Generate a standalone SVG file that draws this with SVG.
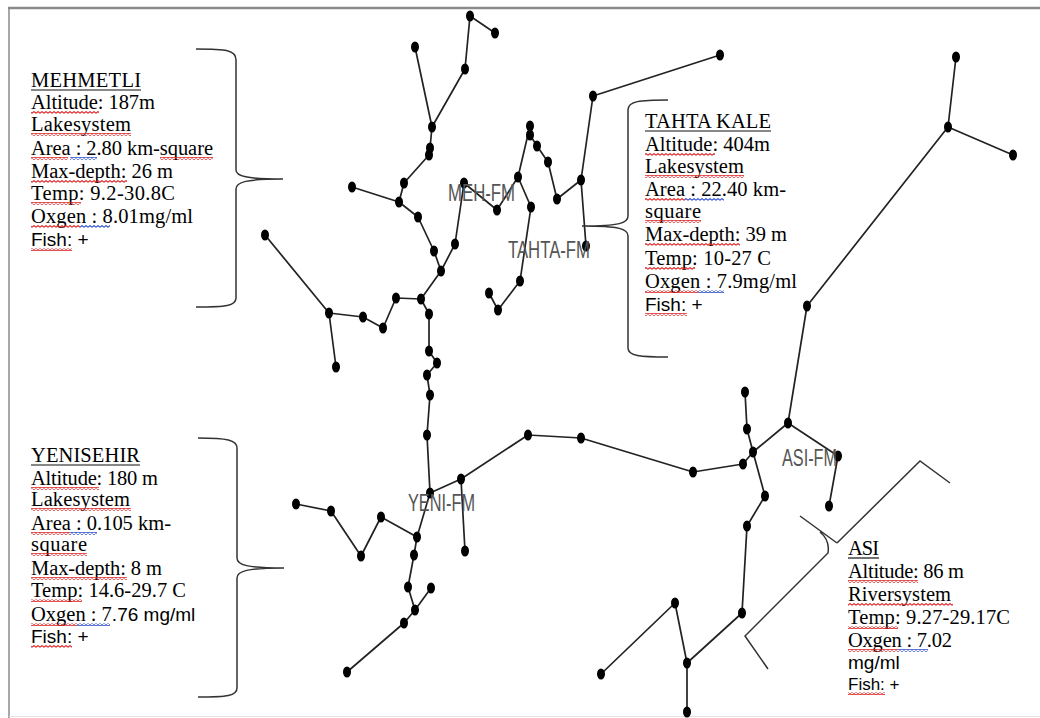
<svg xmlns="http://www.w3.org/2000/svg" width="1040" height="718" viewBox="0 0 1040 718">
<style>
.e{fill:none;stroke:#222;stroke-width:1.7;stroke-linejoin:round;stroke-linecap:round}
.br{fill:none;stroke:#333;stroke-width:1.5}
.d{fill:#000}
.t{font-family:"Liberation Serif","Times New Roman",serif;font-size:20.5px;fill:#000}
.s{font-family:"Liberation Sans",Arial,sans-serif;font-size:19px;fill:#000}
.fm{font-family:"Liberation Sans",Arial,sans-serif;font-size:24px;fill:#555}
.ul{stroke:#111;stroke-width:1.2}
.r{fill:url(#wr)}
.b{fill:url(#wb)}
</style>
<defs>
<pattern id="wr" width="4" height="3" patternUnits="userSpaceOnUse"><path d="M0,2.2 L2,0.6 L4,2.2" fill="none" stroke="#e02424" stroke-width="1.1"/></pattern>
<pattern id="wb" width="4" height="3" patternUnits="userSpaceOnUse"><path d="M0,2.2 L2,0.6 L4,2.2" fill="none" stroke="#3050d0" stroke-width="1.1"/></pattern>
<ellipse id="dot" cx="0" cy="0" rx="4" ry="5.5"/>
</defs>
<rect width="1040" height="718" fill="#fff"/>
<line x1="8" y1="8" x2="1040" y2="8" stroke="#8a8a8a" stroke-width="2.5"/>
<line x1="9" y1="8" x2="9" y2="718" stroke="#8a8a8a" stroke-width="1.5"/>
<line x1="9" y1="716.5" x2="1040" y2="716.5" stroke="#e2e2e2" stroke-width="1"/>

<g id="connectors">
<polyline class="e" points="495,33 470,16 465,69 432,127 430,148 429,155 404,183 399,202 418,217 434,251 441,271 455,244 464,183 497,210 518,177 530,126"/>
<polyline class="e" points="415,47 432,127"/>
<polyline class="e" points="352,187 399,202"/>
<polyline class="e" points="530,135 537,146 548,162 557,199 581,180 593,96 720,55"/>
<polyline class="e" points="581,180 586,246"/>
<polyline class="e" points="518,177 531,207 520,281 498,310 489,293"/>
<polyline class="e" points="441,271 421,299 396,298 383,328 363,317 329,313 265,235"/>
<polyline class="e" points="329,313 336,367"/>
<polyline class="e" points="421,299 429,314 429,351 437,363 427,375 430,395 427,435 430,493"/>
<polyline class="e" points="430,493 461,479 528,435 581,438 693,472 743,464 753,452"/>
<polyline class="e" points="461,479 465,551"/>
<polyline class="e" points="430,493 417,537 381,517 361,556 331,511 296,504"/>
<polyline class="e" points="417,537 414,555 408,587 415,610 431,588"/>
<polyline class="e" points="415,610 404,623 347,672"/>
<polyline class="e" points="745,392 747,429 753,452 765,496 747,526 742,613 687,663 687,712"/>
<polyline class="e" points="753,452 788,423 807,306 948,127 956,57"/>
<polyline class="e" points="948,127 1013,155"/>
<polyline class="e" points="788,423 838,456 829,506"/>
<polyline class="e" points="601,674 675,603 687,663"/>
</g>

<g id="nodes" class="d">
<g id="n1"><use href="#dot" x="415" y="47"/></g>
<g id="n2"><use href="#dot" x="470" y="16"/></g>
<g id="n3"><use href="#dot" x="495" y="33"/></g>
<g id="n4"><use href="#dot" x="465" y="69"/></g>
<g id="n5"><use href="#dot" x="432" y="127"/></g>
<g id="n6"><use href="#dot" x="430" y="148"/></g>
<g id="n7"><use href="#dot" x="429" y="155"/></g>
<g id="n8"><use href="#dot" x="404" y="183"/></g>
<g id="n9"><use href="#dot" x="352" y="187"/></g>
<g id="n10"><use href="#dot" x="399" y="202"/></g>
<g id="n11"><use href="#dot" x="418" y="217"/></g>
<g id="n12"><use href="#dot" x="434" y="251"/></g>
<g id="n13"><use href="#dot" x="441" y="271"/></g>
<g id="n14"><use href="#dot" x="455" y="244"/></g>
<g id="n15"><use href="#dot" x="464" y="183"/></g>
<g id="n16"><use href="#dot" x="497" y="210"/></g>
<g id="n17"><use href="#dot" x="518" y="177"/></g>
<g id="n18"><use href="#dot" x="530" y="126"/></g>
<g id="n19"><use href="#dot" x="530" y="135"/></g>
<g id="n20"><use href="#dot" x="537" y="146"/></g>
<g id="n21"><use href="#dot" x="548" y="162"/></g>
<g id="n22"><use href="#dot" x="557" y="199"/></g>
<g id="n23"><use href="#dot" x="581" y="180"/></g>
<g id="n24"><use href="#dot" x="593" y="96"/></g>
<g id="n25"><use href="#dot" x="720" y="55"/></g>
<g id="n26"><use href="#dot" x="586" y="246"/></g>
<g id="n27"><use href="#dot" x="531" y="207"/></g>
<g id="n28"><use href="#dot" x="520" y="281"/></g>
<g id="n29"><use href="#dot" x="498" y="310"/></g>
<g id="n30"><use href="#dot" x="489" y="293"/></g>
<g id="n31"><use href="#dot" x="421" y="299"/></g>
<g id="n32"><use href="#dot" x="396" y="298"/></g>
<g id="n33"><use href="#dot" x="383" y="328"/></g>
<g id="n34"><use href="#dot" x="363" y="317"/></g>
<g id="n35"><use href="#dot" x="329" y="313"/></g>
<g id="n36"><use href="#dot" x="265" y="235"/></g>
<g id="n37"><use href="#dot" x="336" y="367"/></g>
<g id="n38"><use href="#dot" x="429" y="314"/></g>
<g id="n39"><use href="#dot" x="429" y="351"/></g>
<g id="n40"><use href="#dot" x="437" y="363"/></g>
<g id="n41"><use href="#dot" x="427" y="375"/></g>
<g id="n42"><use href="#dot" x="430" y="395"/></g>
<g id="n43"><use href="#dot" x="427" y="435"/></g>
<g id="n44"><use href="#dot" x="430" y="493"/></g>
<g id="n45"><use href="#dot" x="461" y="479"/></g>
<g id="n46"><use href="#dot" x="528" y="435"/></g>
<g id="n47"><use href="#dot" x="581" y="438"/></g>
<g id="n48"><use href="#dot" x="693" y="472"/></g>
<g id="n49"><use href="#dot" x="743" y="464"/></g>
<g id="n50"><use href="#dot" x="753" y="452"/></g>
<g id="n51"><use href="#dot" x="465" y="551"/></g>
<g id="n52"><use href="#dot" x="417" y="537"/></g>
<g id="n53"><use href="#dot" x="381" y="517"/></g>
<g id="n54"><use href="#dot" x="361" y="556"/></g>
<g id="n55"><use href="#dot" x="331" y="511"/></g>
<g id="n56"><use href="#dot" x="296" y="504"/></g>
<g id="n57"><use href="#dot" x="414" y="555"/></g>
<g id="n58"><use href="#dot" x="408" y="587"/></g>
<g id="n59"><use href="#dot" x="415" y="610"/></g>
<g id="n60"><use href="#dot" x="431" y="588"/></g>
<g id="n61"><use href="#dot" x="404" y="623"/></g>
<g id="n62"><use href="#dot" x="347" y="672"/></g>
<g id="n63"><use href="#dot" x="745" y="392"/></g>
<g id="n64"><use href="#dot" x="747" y="429"/></g>
<g id="n65"><use href="#dot" x="765" y="496"/></g>
<g id="n66"><use href="#dot" x="747" y="526"/></g>
<g id="n67"><use href="#dot" x="742" y="613"/></g>
<g id="n68"><use href="#dot" x="687" y="663"/></g>
<g id="n69"><use href="#dot" x="687" y="712"/></g>
<g id="n70"><use href="#dot" x="788" y="423"/></g>
<g id="n71"><use href="#dot" x="807" y="306"/></g>
<g id="n72"><use href="#dot" x="948" y="127"/></g>
<g id="n73"><use href="#dot" x="956" y="57"/></g>
<g id="n74"><use href="#dot" x="1013" y="155"/></g>
<g id="n75"><use href="#dot" x="838" y="456"/></g>
<g id="n76"><use href="#dot" x="829" y="506"/></g>
<g id="n77"><use href="#dot" x="601" y="674"/></g>
<g id="n78"><use href="#dot" x="675" y="603"/></g>
</g>

<g id="fm-labels">
<text class="fm" x="448" y="201" textLength="67" lengthAdjust="spacingAndGlyphs">MEH-FM</text>
<text class="fm" x="508" y="258" textLength="82" lengthAdjust="spacingAndGlyphs">TAHTA-FM</text>
<text class="fm" x="408" y="511" textLength="67" lengthAdjust="spacingAndGlyphs">YENI-FM</text>
<text class="fm" x="782" y="466" textLength="55" lengthAdjust="spacingAndGlyphs">ASI-FM</text>
</g>

<g id="mehmetli">
<path class="br" d="M196,49 C226,49 236,50 236,60 L236,170 C236,176 246,179 283,179 C246,179 236,182 236,189 L236,298 C236,306 226,307 196,307"/>
<text class="t" x="31" y="87" textLength="110">MEHMETLI</text>
<line class="ul" x1="31" y1="90" x2="141" y2="90"/>
<text class="t" x="31" y="109" textLength="124">Altitude: 187m</text>
<text class="t" x="31" y="131" textLength="100">Lakesystem</text>
<text class="t" x="31" y="155" textLength="182">Area : 2.80 km-square</text>
<text class="t" x="31" y="178" textLength="142">Max-depth: 26 m</text>
<text class="t" x="31" y="200" textLength="144">Temp: 9.2-30.8C</text>
<text class="t" x="31" y="223" textLength="162">Oxgen : 8.01mg/ml</text>
<text class="s" x="31" y="246">Fish: +</text>
<rect class="r" x="31" y="111" width="68" height="3"/>
<rect class="r" x="31" y="133" width="100" height="3"/>
<rect class="r" x="31" y="157" width="37" height="3"/>
<rect class="b" x="70" y="157" width="27" height="3"/>
<rect class="r" x="160" y="157" width="53" height="3"/>
<rect class="r" x="31" y="180" width="96" height="3"/>
<rect class="r" x="31" y="202" width="50" height="3"/>
<rect class="r" x="31" y="225" width="49" height="3"/>
<rect class="b" x="80" y="225" width="30" height="3"/>
<rect class="r" x="31" y="248" width="41" height="3"/>
</g>

<g id="tahta-kale">
<path class="br" d="M668,100 C640,100 628,101 628,110 L628,216 C628,223 620,226 582,226 C620,226 628,229 628,236 L628,348 C628,356 640,357 668,357"/>
<text class="t" x="645" y="128" textLength="126">TAHTA KALE</text>
<line class="ul" x1="645" y1="131" x2="771" y2="131"/>
<text class="t" x="645" y="151" textLength="125">Altitude: 404m</text>
<text class="t" x="645" y="173" textLength="99">Lakesystem</text>
<text class="t" x="645" y="196" textLength="141">Area : 22.40 km-</text>
<text class="t" x="645" y="218" textLength="56">square</text>
<text class="t" x="645" y="241" textLength="142">Max-depth: 39 m</text>
<text class="t" x="645" y="265" textLength="126">Temp: 10-27 C</text>
<text class="t" x="645" y="288" textLength="152">Oxgen : 7.9mg/ml</text>
<text class="s" x="645" y="311">Fish: +</text>
<rect class="r" x="645" y="153" width="70" height="3"/>
<rect class="r" x="645" y="175" width="99" height="3"/>
<rect class="r" x="645" y="198" width="40" height="3"/>
<rect class="b" x="685" y="198" width="39" height="3"/>
<rect class="r" x="645" y="220" width="56" height="3"/>
<rect class="r" x="645" y="243" width="95" height="3"/>
<rect class="r" x="645" y="267" width="50" height="3"/>
<rect class="r" x="645" y="290" width="53" height="3"/>
<rect class="b" x="698" y="290" width="26" height="3"/>
<rect class="r" x="645" y="313" width="42" height="3"/>
</g>

<g id="yenisehir">
<path class="br" d="M198,438 C227,438 237,440 237,448 L237,558 C237,565 247,568 284,568 C247,568 237,571 237,578 L237,688 C237,696 227,697 198,697"/>
<text class="t" x="31" y="462" textLength="109">YENISEHIR</text>
<line class="ul" x1="31" y1="465" x2="140" y2="465"/>
<text class="t" x="31" y="485" textLength="127">Altitude: 180 m</text>
<text class="t" x="31" y="506" textLength="99">Lakesystem</text>
<text class="t" x="31" y="530" textLength="140">Area : 0.105 km-</text>
<text class="t" x="31" y="551" textLength="56">square</text>
<text class="t" x="31" y="575" textLength="131">Max-depth: 8 m</text>
<text class="t" x="31" y="597" textLength="155">Temp: 14.6-29.7 C</text>
<text class="t" x="31" y="621">Oxgen : 7<tspan class="s">.76 mg/ml</tspan></text>
<text class="s" x="31" y="643">Fish: +</text>
<rect class="r" x="31" y="487" width="68" height="3"/>
<rect class="r" x="31" y="508" width="100" height="3"/>
<rect class="r" x="31" y="532" width="39" height="3"/>
<rect class="b" x="70" y="532" width="27" height="3"/>
<rect class="r" x="31" y="553" width="56" height="3"/>
<rect class="r" x="31" y="577" width="96" height="3"/>
<rect class="r" x="31" y="599" width="51" height="3"/>
<rect class="r" x="31" y="623" width="46" height="3"/>
<rect class="b" x="77" y="623" width="33" height="3"/>
<rect class="r" x="31" y="645" width="41" height="3"/>
</g>

<g id="asi">
<path class="br" d="M950,483 L920,461 L837,543 M800,516 L837,543 M820,532 Q830,540 828,553 L745,636 L768,669"/>
<text class="t" x="848" y="555" textLength="31">ASI</text>
<line class="ul" x1="848" y1="558" x2="879" y2="558"/>
<text class="t" x="848" y="578" textLength="116">Altitude: 86 m</text>
<text class="t" x="848" y="601" textLength="103">Riversystem</text>
<text class="t" x="848" y="624" textLength="162">Temp: 9.27-29.17C</text>
<text class="t" x="848" y="647" textLength="104">Oxgen : 7.02</text>
<text class="s" x="848" y="669">mg/ml</text>
<text class="s" x="848" y="690" style="font-size:17px">Fish: +</text>
<rect class="r" x="848" y="580" width="70" height="3"/>
<rect class="r" x="848" y="603" width="105" height="3"/>
<rect class="r" x="848" y="626" width="50" height="3"/>
<rect class="r" x="848" y="649" width="50" height="3"/>
<rect class="b" x="898" y="649" width="30" height="3"/>
<rect class="r" x="848" y="692" width="37" height="3"/>
</g>
</svg>
